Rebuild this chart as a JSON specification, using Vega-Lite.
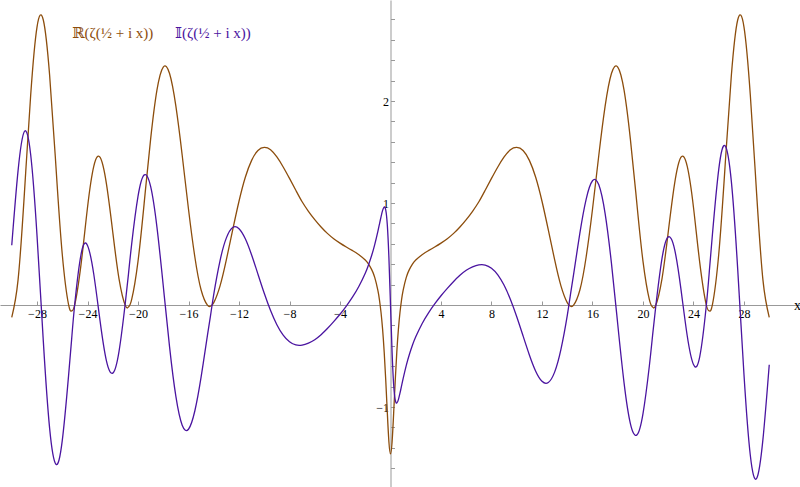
{
  "$schema": "https://vega.github.io/schema/vega-lite/v6.json",
  "width": 800,
  "height": 487,
  "autosize": {"type": "none"},
  "padding": 0,
  "background": "white",
  "config": {"view": {"stroke": null}},
  "data": {"values": [
    {"x":-30,"re":-0.121,"im":0.586},{"x":-29.5,"re":0.246,"im":1.318},{"x":-29,"re":1.092,"im":1.701},{"x":-28.5,"re":2.059,"im":1.473},
    {"x":-28,"re":2.725,"im":0.683},{"x":-27.5,"re":2.794,"im":-0.354},{"x":-27,"re":2.252,"im":-1.209},{"x":-26.5,"re":1.358,"im":-1.561},
    {"x":-26,"re":0.498,"im":-1.330},{"x":-25.5,"re":0.004,"im":-0.692},{"x":-25.25,"re":-0.057,"im":-0.325},{"x":-25,"re":0.008,"im":0.022},
    {"x":-24.5,"re":0.411,"im":0.503},{"x":-24,"re":0.956,"im":0.584},{"x":-23.5,"re":1.361,"im":0.299},{"x":-23,"re":1.447,"im":-0.161},
    {"x":-22.5,"re":1.188,"im":-0.548},{"x":-22,"re":0.716,"im":-0.668},{"x":-21.5,"re":0.254,"im":-0.452},{"x":-21,"re":-0.006,"im":0.027},
    {"x":-20.75,"re":-0.018,"im":0.310},{"x":-20.5,"re":0.055,"im":0.600},{"x":-20,"re":0.428,"im":1.065},{"x":-19.5,"re":1.013,"im":1.276},
    {"x":-19,"re":1.626,"im":1.162},{"x":-18.5,"re":2.106,"im":0.763},{"x":-18,"re":2.333,"im":0.189},{"x":-17.5,"re":2.269,"im":-0.410},
    {"x":-17,"re":1.949,"im":-0.896},{"x":-16.5,"re":1.468,"im":-1.178},{"x":-16,"re":0.939,"im":-1.218},{"x":-15.5,"re":0.473,"im":-1.039},
    {"x":-15,"re":0.147,"im":-0.705},{"x":-14.5,"re":-0.002,"im":-0.297},{"x":-14.25,"re":-0.011,"im":-0.100},{"x":-14,"re":0.023,"im":0.105},
    {"x":-13.5,"re":0.188,"im":0.436},{"x":-13,"re":0.444,"im":0.658},{"x":-12.5,"re":0.736,"im":0.760},{"x":-12,"re":1.017,"im":0.748},
    {"x":-11.5,"re":1.252,"im":0.649},{"x":-11,"re":1.418,"im":0.490},{"x":-10.5,"re":1.515,"im":0.303},{"x":-10,"re":1.545,"im":0.115},
    {"x":-9.5,"re":1.522,"im":-0.054},{"x":-9,"re":1.451,"im":-0.193},{"x":-8.5,"re":1.353,"im":-0.296},{"x":-8,"re":1.241,"im":-0.361},
    {"x":-7.5,"re":1.125,"im":-0.392},{"x":-7,"re":1.012,"im":-0.393},{"x":-6.5,"re":0.919,"im":-0.373},{"x":-6,"re":0.837,"im":-0.340},
    {"x":-5.5,"re":0.765,"im":-0.291},{"x":-5,"re":0.702,"im":-0.231},{"x":-4.5,"re":0.650,"im":-0.163},{"x":-4,"re":0.607,"im":-0.091},
    {"x":-3.5,"re":0.5687,"im":-0.0108},{"x":-3,"re":0.5325,"im":0.0787},{"x":-2.5,"re":0.4933,"im":0.1832},{"x":-2,"re":0.4405,"im":0.3116},
    {"x":-1.75,"re":0.4026,"im":0.3901},{"x":-1.5,"re":0.3488,"im":0.4822},{"x":-1.25,"re":0.2706,"im":0.5919},{"x":-1,"re":0.1439,"im":0.7221},
    {"x":-0.875,"re":0.0506,"im":0.7935},{"x":-0.75,"re":-0.0733,"im":0.8649},{"x":-0.625,"re":-0.2392,"im":0.9271},{"x":-0.5,"re":-0.4593,"im":0.9613},
    {"x":-0.375,"re":-0.7398,"im":0.9310},{"x":-0.25,"re":-1.0601,"im":0.7806},{"x":-0.125,"re":-1.3426,"im":0.4609},
    {"x":0,"re":-1.4604,"im":0},
    {"x":0.125,"re":-1.3426,"im":-0.4609},{"x":0.25,"re":-1.0601,"im":-0.7806},{"x":0.375,"re":-0.7398,"im":-0.9310},{"x":0.5,"re":-0.4593,"im":-0.9613},
    {"x":0.625,"re":-0.2392,"im":-0.9271},{"x":0.75,"re":-0.0733,"im":-0.8649},{"x":0.875,"re":0.0506,"im":-0.7935},{"x":1,"re":0.1439,"im":-0.7221},
    {"x":1.25,"re":0.2706,"im":-0.5919},{"x":1.5,"re":0.3488,"im":-0.4822},{"x":1.75,"re":0.4026,"im":-0.3901},{"x":2,"re":0.4405,"im":-0.3116},
    {"x":2.5,"re":0.4933,"im":-0.1832},{"x":3,"re":0.5325,"im":-0.0787},{"x":3.5,"re":0.5687,"im":0.0108},{"x":4,"re":0.607,"im":0.091},
    {"x":4.5,"re":0.650,"im":0.163},{"x":5,"re":0.702,"im":0.231},{"x":5.5,"re":0.765,"im":0.291},{"x":6,"re":0.837,"im":0.340},
    {"x":6.5,"re":0.919,"im":0.373},{"x":7,"re":1.012,"im":0.393},{"x":7.5,"re":1.125,"im":0.392},{"x":8,"re":1.241,"im":0.361},
    {"x":8.5,"re":1.353,"im":0.296},{"x":9,"re":1.451,"im":0.193},{"x":9.5,"re":1.522,"im":0.054},{"x":10,"re":1.545,"im":-0.115},
    {"x":10.5,"re":1.515,"im":-0.303},{"x":11,"re":1.418,"im":-0.490},{"x":11.5,"re":1.252,"im":-0.649},{"x":12,"re":1.017,"im":-0.748},
    {"x":12.5,"re":0.736,"im":-0.760},{"x":13,"re":0.444,"im":-0.658},{"x":13.5,"re":0.188,"im":-0.436},{"x":14,"re":0.023,"im":-0.105},
    {"x":14.25,"re":-0.011,"im":0.100},{"x":14.5,"re":-0.002,"im":0.297},{"x":15,"re":0.147,"im":0.705},{"x":15.5,"re":0.473,"im":1.039},
    {"x":16,"re":0.939,"im":1.218},{"x":16.5,"re":1.468,"im":1.178},{"x":17,"re":1.949,"im":0.896},{"x":17.5,"re":2.269,"im":0.410},
    {"x":18,"re":2.333,"im":-0.189},{"x":18.5,"re":2.106,"im":-0.763},{"x":19,"re":1.626,"im":-1.162},{"x":19.5,"re":1.013,"im":-1.276},
    {"x":20,"re":0.428,"im":-1.065},{"x":20.5,"re":0.055,"im":-0.600},{"x":20.75,"re":-0.018,"im":-0.310},{"x":21,"re":-0.006,"im":-0.027},
    {"x":21.5,"re":0.254,"im":0.452},{"x":22,"re":0.716,"im":0.668},{"x":22.5,"re":1.188,"im":0.548},{"x":23,"re":1.447,"im":0.161},
    {"x":23.5,"re":1.361,"im":-0.299},{"x":24,"re":0.956,"im":-0.584},{"x":24.5,"re":0.411,"im":-0.503},{"x":25,"re":0.008,"im":-0.022},
    {"x":25.25,"re":-0.057,"im":0.325},{"x":25.5,"re":0.004,"im":0.692},{"x":26,"re":0.498,"im":1.330},{"x":26.5,"re":1.358,"im":1.561},
    {"x":27,"re":2.252,"im":1.209},{"x":27.5,"re":2.794,"im":0.354},{"x":28,"re":2.725,"im":-0.683},{"x":28.5,"re":2.059,"im":-1.473},
    {"x":29,"re":1.092,"im":-1.701},{"x":29.5,"re":0.246,"im":-1.318},{"x":30,"re":-0.121,"im":-0.586}
  ]},
  "transform": [{"fold": ["re", "im"], "as": ["series", "value"]}],
  "mark": {"type": "line", "strokeWidth": 1.3, "interpolate": "natural", "clip": true},
  "encoding": {
    "x": {
      "field": "x", "type": "quantitative",
      "scale": {"domain": [-30.931, 32.436], "nice": false, "zero": false},
      "axis": {
        "orient": "bottom", "offset": -182,
        "values": [-28, -24, -20, -16, -12, -8, -4, 4, 8, 12, 16, 20, 24, 28],
        "tickCount": 60,
        "format": "d", "grid": false, "labelOverlap": false,
        "domainColor": "#999999", "tickColor": "#999999", "tickSize": -4, "labelPadding": 7,
        "labelFont": "Liberation Serif", "labelFontSize": 12, "labelColor": "#000000",
        "title": "x", "titleX": 797, "titleY": 0, "titleAlign": "center", "titleBaseline": "middle",
        "titleFont": "Liberation Serif", "titleFontSize": 14, "titleFontWeight": "normal", "titleColor": "#000000"
      }
    },
    "y": {
      "field": "value", "type": "quantitative",
      "scale": {"domain": [-1.7843, 2.9902], "nice": false, "zero": false},
      "axis": {
        "orient": "left", "offset": -390.5,
        "values": [-1.6, -1.4, -1.2, -1, -0.8, -0.6, -0.4, -0.2, 0.2, 0.4, 0.6, 0.8, 1, 1.2, 1.4, 1.6, 1.8, 2, 2.2, 2.4, 2.6, 2.8],
        "tickCount": 60,
        "labelExpr": "datum.value == 1 ? '1' : (datum.value == 2 ? '2' : (datum.value == -1 ? '−1' : ''))",
        "grid": false, "labelOverlap": false,
        "domainColor": "#999999", "tickColor": "#999999",
        "tickSize": -4,
        "labelPadding": 6,
        "labelFont": "Liberation Serif", "labelFontSize": 12, "labelColor": "#000000",
        "title": null
      }
    },
    "color": {
      "field": "series", "type": "nominal",
      "scale": {"domain": ["re", "im"], "range": ["#8c4d0c", "#4a14a0"]},
      "legend": {
        "orient": "none", "legendX": 57, "legendY": 25, "direction": "horizontal", "title": null,
        "symbolSize": 0, "symbolStrokeWidth": 0, "symbolOpacity": 0, "labelOffset": 0, "columnPadding": 6,
        "labelFont": "Liberation Serif, DejaVu Serif", "labelFontSize": 15,
        "labelExpr": "datum.value === 're' ? 'ℝ(ζ(½ + i x))' : '𝕀(ζ(½ + i x))'",
        "encode": {"labels": {"update": {"fill": {"scale": "color", "field": "value"}}}}
      }
    }
  }
}
